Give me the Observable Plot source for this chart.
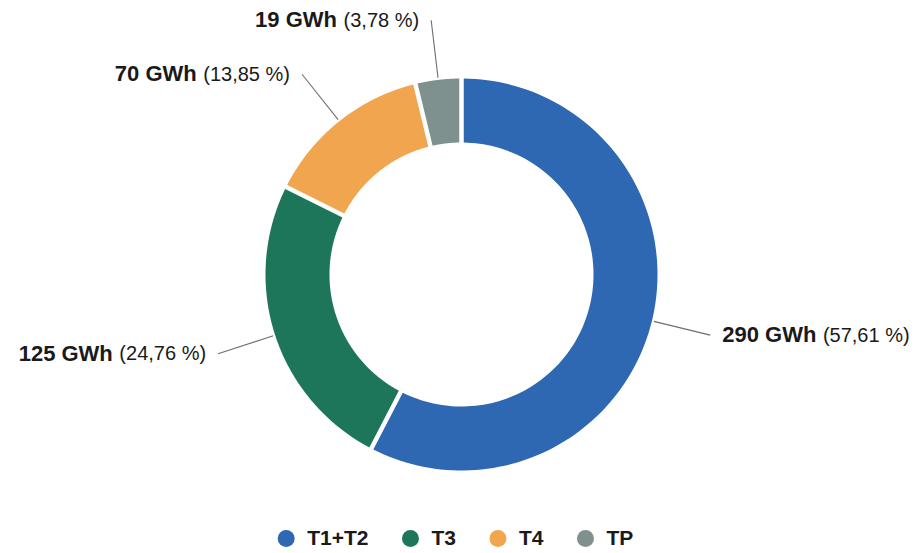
<!DOCTYPE html>
<html>
<head>
<meta charset="utf-8">
<script src="https://cdn.jsdelivr.net/npm/d3@7"></script>
<script src="https://cdn.jsdelivr.net/npm/@observablehq/plot@0.6"></script>
<style>
  html, body { margin: 0; padding: 0; background: #fff; }
  svg { display: block; }
</style>
</head>
<body>
<div id="chart"></div>
<script>
// ---- Data ----
const categories  = ["T1+T2", "T3", "T4", "TP"];
const energyGWh   = [290, 125, 70, 19];
const sharesPct   = [57.61, 24.76, 13.85, 3.78];
const valueLabels = ["290 GWh", "125 GWh", "70 GWh", "19 GWh"];
const shareLabels = ["(57,61 %)", "(24,76 %)", "(13,85 %)", "(3,78 %)"];
const colors      = ["#2e68b3", "#1e765a", "#f1a54e", "#7f918f"];

// ---- Layout ----
const W = 918, H = 553;
const cx = 461, cy = 274;          // donut centre (px)
const R = 196, r = 132;            // outer / inner radius
const gap = 4.5;                   // white gap between slices (px)
const lead1 = 198, lead2 = 256;    // leader line radii
const fontFam = "'Liberation Sans', Arial, Helvetica, sans-serif";
const valFont = `bold 22px ${fontFam}`;
const pctFont = `20px ${fontFam}`;
const legFont = `bold 21px ${fontFam}`;

const ctx = document.createElement("canvas").getContext("2d");
function textW(str, font) { ctx.font = font; return ctx.measureText(str).width; }

// slices
const pie = d3.pie().sort(null).value(d => d.share).startAngle(0).endAngle(2 * Math.PI);
const rows = categories.map((c, i) => ({cat: c, energy: energyGWh[i], share: sharesPct[i],
  val: valueLabels[i], pct: shareLabels[i]}));
const arcs = pie(rows);

const pts = [];
arcs.forEach(a => {
  const n = 120;
  const o0 = a.startAngle + gap / 2 / R, o1 = a.endAngle - gap / 2 / R;
  const i0 = a.startAngle + gap / 2 / r, i1 = a.endAngle - gap / 2 / r;
  for (let k = 0; k <= n; k++) {
    const t = o0 + (o1 - o0) * k / n;
    pts.push({cat: a.data.cat, x: R * Math.sin(t), y: -R * Math.cos(t)});
  }
  for (let k = n; k >= 0; k--) {
    const t = i0 + (i1 - i0) * k / n;
    pts.push({cat: a.data.cat, x: r * Math.sin(t), y: -r * Math.cos(t)});
  }
});

// leader lines + labels
const leaders = arcs.map(a => {
  const m = (a.startAngle + a.endAngle) / 2;
  const s = Math.sin(m), c = Math.cos(m);
  const right = s > 0;
  const x2 = lead2 * s, y2 = -lead2 * c;
  const tx = right ? x2 + 12 : x2 - 12;
  const space = textW(" ", pctFont) + 1;
  const wv = textW(a.data.val, valFont), wp = textW(a.data.pct, pctFont);
  return {
    cat: a.data.cat, val: a.data.val, pct: a.data.pct,
    x1: lead1 * s, y1: -lead1 * c, x2, y2,
    ty: y2,
    anchor: right ? "start" : "end",
    vx: right ? tx : tx - wp - space,
    px: right ? tx + wv + space : tx
  };
});
const rightL = leaders.filter(d => d.anchor === "start");
const leftL = leaders.filter(d => d.anchor === "end");

// legend
const dotR = 8.5, dotToText = 21, itemGap = 42;
let lx = 0;
const legend = categories.map((c, i) => {
  const w = textW(c, legFont);
  const item = {cat: c, dx: lx, tx: lx + dotToText};
  lx += dotToText + w + itemGap;
  return item;
});
const legTotal = lx - itemGap + dotR;
const legStart = (455 - cx) - legTotal / 2 + dotR;
legend.forEach(d => { d.x = legStart + d.dx; d.tx = legStart + d.tx; d.y = 538 - cy; });

const chart = Plot.plot({
  width: W, height: H,
  marginTop: 0, marginRight: 0, marginBottom: 0, marginLeft: 0,
  x: {domain: [-cx, W - cx], axis: null},
  y: {domain: [-cy, H - cy], reverse: true, axis: null},
  color: {domain: categories, range: colors},
  style: {fontFamily: fontFam, background: "#fff", color: "#1a1a1a"},
  marks: [
    Plot.line(pts, {x: "x", y: "y", z: "cat", fill: "cat", stroke: "none", curve: "linear-closed"}),
    Plot.link(leaders, {x1: "x1", y1: "y1", x2: "x2", y2: "y2", stroke: "#6e6e6e", strokeWidth: 1.1}),
    Plot.text(rightL, {x: "vx", y: "ty", text: "val", textAnchor: "start", lineAnchor: "middle",
      fontSize: 22, fontWeight: "bold", fill: "#1a1a1a"}),
    Plot.text(rightL, {x: "px", y: "ty", text: "pct", textAnchor: "start", lineAnchor: "middle",
      fontSize: 20, fill: "#1a1a1a"}),
    Plot.text(leftL, {x: "vx", y: "ty", text: "val", textAnchor: "end", lineAnchor: "middle",
      fontSize: 22, fontWeight: "bold", fill: "#1a1a1a"}),
    Plot.text(leftL, {x: "px", y: "ty", text: "pct", textAnchor: "end", lineAnchor: "middle",
      fontSize: 20, fill: "#1a1a1a"}),
    Plot.dot(legend, {x: "x", y: "y", r: dotR, fill: "cat", stroke: "none"}),
    Plot.text(legend, {x: "tx", y: "y", text: "cat", textAnchor: "start", lineAnchor: "middle",
      fontSize: 21, fontWeight: "bold", fill: "#1a1a1a"})
  ]
});
document.getElementById("chart").appendChild(chart);
</script>
</body>
</html>
